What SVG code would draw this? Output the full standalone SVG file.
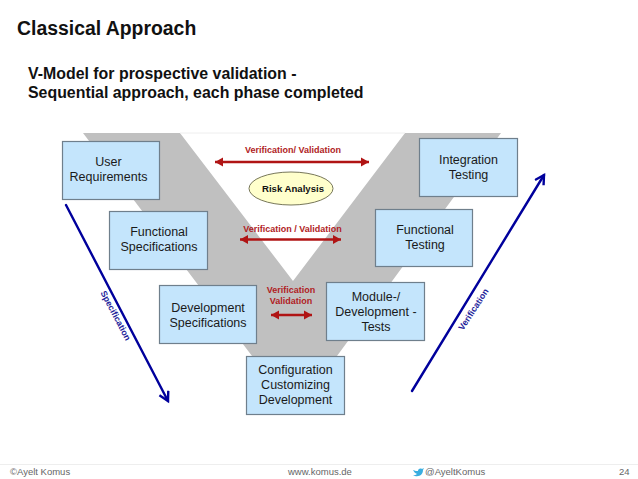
<svg xmlns="http://www.w3.org/2000/svg" width="638" height="479" viewBox="0 0 638 479">
<style>
text{font-family:"Liberation Sans",Arial,sans-serif}
.b{fill:#c4e5fc;stroke:#6f7f8c;stroke-width:1.2}
.t{font-size:12.5px;fill:#1a1a1a;text-anchor:middle}
.r{font-size:9px;font-weight:bold;fill:#b01c24;text-anchor:middle}
.bl{font-size:8.800px;font-weight:bold;fill:#22229a;text-anchor:middle}
.f{font-size:9.500px;fill:#666}
.h{font-weight:bold;fill:#111}
.ra{stroke:#b01414;stroke-width:2.400;fill:none;marker-start:url(#rs);marker-end:url(#re)}
.ba{stroke:#00009c;stroke-width:2.400;fill:none;stroke-linecap:round}
</style>
<defs>
<marker id="re" markerUnits="userSpaceOnUse" markerWidth="9" markerHeight="10" refX="8" refY="5" orient="auto"><path d="M0 .5L8 5L0 9.500z" fill="#b01414"/></marker>
<marker id="rs" markerUnits="userSpaceOnUse" markerWidth="9" markerHeight="10" refX="0" refY="5" orient="auto"><path d="M8 .5L0 5L8 9.500z" fill="#b01414"/></marker>
<marker id="be" markerUnits="userSpaceOnUse" markerWidth="14" markerHeight="14" refX="10" refY="6" orient="auto"><path d="M1 1L10 6L1 11" fill="none" stroke="#00009c" stroke-width="2.400"/></marker>
</defs>
<rect width="638" height="479" fill="#fff"/>
<g id="title">
<text class="h" x="17" y="35" font-size="19.400">Classical Approach</text>
<text class="h" x="28" y="79" font-size="15.900">V-Model for prospective validation -</text>
<text class="h" x="28" y="98" font-size="15.900">Sequential approach, each phase completed</text>
</g>
<g id="v-shape">
<path d="M83 133H180L293 281L405 133H501L337 356H252Z" fill="#c0c0c0"/>
<path d="M180 133H405" stroke="#eee" stroke-width="1"/>
</g>
<g id="connectors">
<path class="ra" d="M215 162H369"/>
<path class="ra" d="M240 239.500H341"/>
<path class="ra" d="M271 315H312"/>
<path class="ba" d="M66 205L168 401" marker-end="url(#be)"/>
<path class="ba" d="M412 391L544 175" marker-end="url(#be)"/>
</g>
<g id="labels">
<text class="r" x="293" y="153">Verification/ Validation</text>
<text class="r" x="292.500" y="232">Verification / Validation</text>
<text class="r" x="291" y="293">Verification</text>
<text class="r" x="291" y="304">Validation</text>
<text class="bl" transform="translate(113 317) rotate(62)" y="0">Specification</text>
<text class="bl" transform="translate(476 311) rotate(-57)" y="0">Verification</text>
</g>
<g id="risk-analysis">
<ellipse cx="291" cy="188.500" rx="42" ry="16.500" fill="#ffffcc" stroke="#77775a"/>
<text x="293" y="192" font-size="9.600" font-weight="bold" fill="#111" text-anchor="middle">Risk Analysis</text>
</g>
<g id="user-requirements">
<rect class="b" x="62.500" y="141.500" width="97" height="58"/>
<text class="t" x="108.500" y="166">User</text>
<text class="t" x="108.500" y="181">Requirements</text>
</g>
<g id="functional-specifications">
<rect class="b" x="109.500" y="211.500" width="98" height="58"/>
<text class="t" x="159" y="236">Functional</text>
<text class="t" x="159" y="251">Specifications</text>
</g>
<g id="development-specifications">
<rect class="b" x="159.500" y="285.500" width="97" height="58"/>
<text class="t" x="208" y="312">Development</text>
<text class="t" x="208" y="327">Specifications</text>
</g>
<g id="configuration">
<rect class="b" x="246.500" y="356.500" width="98" height="58"/>
<text class="t" x="295.500" y="374">Configuration</text>
<text class="t" x="295.500" y="389">Customizing</text>
<text class="t" x="295.500" y="404">Development</text>
</g>
<g id="module-tests">
<rect class="b" x="326.500" y="282.500" width="98" height="58"/>
<text class="t" x="376" y="301">Module-/</text>
<text class="t" x="376" y="316">Development -</text>
<text class="t" x="376" y="331">Tests</text>
</g>
<g id="functional-testing">
<rect class="b" x="375.500" y="209.500" width="97" height="57"/>
<text class="t" x="425" y="234">Functional</text>
<text class="t" x="425" y="249">Testing</text>
</g>
<g id="integration-testing">
<rect class="b" x="419.500" y="138.500" width="98" height="58"/>
<text class="t" x="468.500" y="164">Integration</text>
<text class="t" x="468.500" y="179">Testing</text>
</g>
<g id="footer">
<path d="M0 464.500H638" stroke="#eee"/>
<text class="f" x="10" y="475">©Ayelt Komus</text>
<text class="f" x="288" y="475">www.komus.de</text>
<path d="M413 470c2 1 4 1 5 1c0-2 2-3 4-2l2-1l-1 2c0 4-3 7-8 6l-2-1c2 0 3 0 4-1c-2-1-3-2-4-4z" fill="#3aaee0"/>
<text class="f" x="425" y="475">@AyeltKomus</text>
<text class="f" x="619" y="475">24</text>
</g>
</svg>
